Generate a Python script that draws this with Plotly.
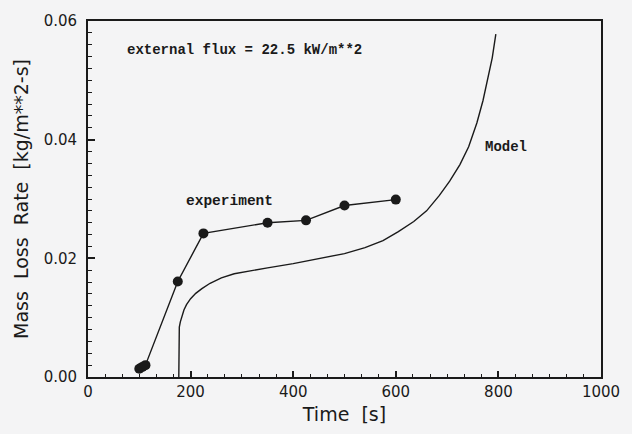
import plotly.graph_objects as go

# Measured mass loss rate (kg/m^2-s) versus time (s)
exp_time = [100, 106, 112, 175, 225, 350, 425, 500, 600]
exp_rate = [0.0014, 0.0017, 0.0020, 0.0161, 0.0242, 0.0260, 0.0264, 0.0289, 0.0299]

# Model prediction
model_time = [177, 177, 178, 180, 183, 187, 192, 200, 210, 222, 238, 260, 285, 315,
              350, 400, 450, 500, 540, 575, 605, 635, 660, 685, 705, 725, 742,
              758, 770, 780, 788, 795]
model_rate = [0.0, 0.0076, 0.0084, 0.0093, 0.0103, 0.0113, 0.0122, 0.0132, 0.0141,
              0.0149, 0.0158, 0.0167, 0.0174, 0.0179, 0.0184, 0.0191, 0.0199, 0.0208,
              0.0218, 0.0230, 0.0245, 0.0262, 0.0280, 0.0306, 0.0330, 0.0358, 0.0388,
              0.0428, 0.0466, 0.0503, 0.0538, 0.0578]

x_ticks = [0, 200, 400, 600, 800, 1000]
y_ticks = [0.00, 0.02, 0.04, 0.06]

bg = "#f4f4f5"
ink = "#1a1a1a"
NB = "\u00a0"

fig = go.Figure()
fig.add_trace(go.Scatter(
    x=model_time, y=model_rate, mode="lines",
    line=dict(color=ink, width=1.4), showlegend=False, hoverinfo="skip"))
fig.add_trace(go.Scatter(
    x=exp_time, y=exp_rate, mode="lines+markers",
    line=dict(color=ink, width=1.4),
    marker=dict(color=ink, size=10), showlegend=False))

label_font = dict(family="Liberation Mono", size=14, color=ink)
fig.add_annotation(x=72, y=0.0551, xref="x", yref="y", xanchor="left",
                   text="<b>external flux = 22.5 kW/m**2</b>", showarrow=False,
                   font=label_font)
fig.add_annotation(x=187, y=0.0297, xref="x", yref="y", xanchor="left",
                   text="<b>experiment</b>", showarrow=False,
                   font=dict(label_font, size=14.5))
fig.add_annotation(x=769, y=0.0387, xref="x", yref="y", xanchor="left",
                   text="<b>Model</b>", showarrow=False, font=label_font)

axis_font = dict(family="DejaVu Sans", size=15, color=ink)
title_font = dict(family="DejaVu Sans", size=19, color=ink)
fig.update_xaxes(
    range=[0, 1000], tickvals=x_ticks, ticktext=[str(v) for v in x_ticks],
    ticks="inside", ticklen=6, tickwidth=1.5, tickcolor=ink,
    minor=dict(dtick=200 / 6, tick0=0, ticks="inside", ticklen=3, tickcolor=ink,
               tickwidth=1.2),
    showline=True, linecolor=ink, linewidth=1.8, mirror=True,
    showgrid=False, zeroline=False, tickfont=axis_font,
    title=dict(text="Time" + NB + NB + "[s]", font=title_font, standoff=8),
)
fig.update_yaxes(
    range=[0, 0.06], tickvals=y_ticks, ticktext=[f"{v:.2f}" for v in y_ticks],
    ticks="inside", ticklen=7, tickwidth=1.5, tickcolor=ink,
    minor=dict(dtick=0.002, tick0=0, ticks="inside", ticklen=4, tickcolor=ink,
               tickwidth=1.2),
    showline=True, linecolor=ink, linewidth=1.8, mirror=True,
    showgrid=False, zeroline=False, tickfont=axis_font, ticklabelstandoff=6,
    title=dict(text=(NB * 2).join(["Mass", "Loss", "Rate", "[kg/m**2-s]"]),
               font=title_font, standoff=10),
)
fig.update_layout(
    width=632, height=434,
    margin=dict(l=88, r=20, t=19, b=57),
    paper_bgcolor=bg, plot_bgcolor=bg,
    showlegend=False,
)
fig.write_html("out.html")
